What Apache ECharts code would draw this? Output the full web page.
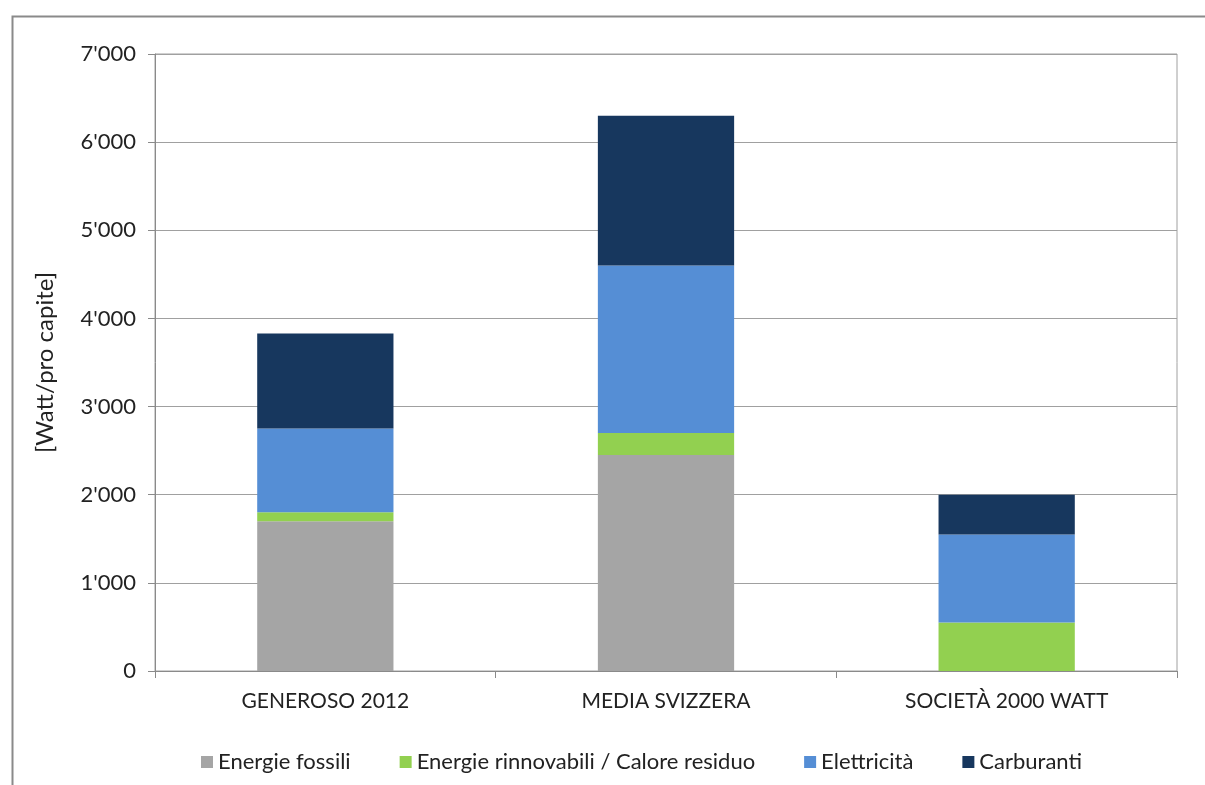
<!DOCTYPE html>
<html><head><meta charset="utf-8">
<script src="https://cdn.jsdelivr.net/npm/echarts@6/dist/echarts.min.js"></script>
<style>html,body{margin:0;padding:0;background:#fff}#c{width:1205px;height:785px}</style>
</head><body><div id="c"></div>
<script>
const categories = ['GENEROSO 2012', 'MEDIA SVIZZERA', 'SOCIETÀ 2000 WATT'];
const seriesNames = ['Energie fossili', 'Energie rinnovabili / Calore residuo', 'Elettricità', 'Carburanti'];
const fossili = [1700, 2450, 0];
const rinnovabili = [100, 250, 550];
const elettricita = [950, 1900, 1000];
const carburanti = [1080, 1700, 450];
const yTicks = [0, 1000, 2000, 3000, 4000, 5000, 6000, 7000];
const colors = ['#A5A5A5', '#92D050', '#558ED5', '#17375E'];

const values = [fossili, rinnovabili, elettricita, carburanti];
const font = 'Lato, "Open Sans", sans-serif';
const chart = echarts.init(document.getElementById('c'));
chart.setOption({
  animation: false,
  color: colors,
  graphic: [{
    type: 'rect', left: 10, top: 14, shape: {width: 1250, height: 820},
    style: {fill: 'none', stroke: '#8a8a8a', lineWidth: 2}, silent: true
  }],
  grid: {left: 155, right: 28, top: 54, bottom: 114, show: true, borderColor: '#a0a0a0', borderWidth: 1},
  legend: {
    bottom: 7, left: 196, itemWidth: 12, itemHeight: 12, itemGap: 49,
    icon: 'rect',
    textStyle: {fontFamily: font, fontSize: 22, color: '#222'},
    data: seriesNames
  },
  xAxis: {
    type: 'category', data: categories,
    axisLine: {lineStyle: {color: '#8a8a8a'}},
    axisTick: {show: true, length: 7, lineStyle: {color: '#8a8a8a'}},
    axisLabel: {fontFamily: font, fontSize: 21, color: '#222', margin: 20}
  },
  yAxis: {
    type: 'value', min: yTicks[0], max: yTicks[yTicks.length - 1], interval: 1000,
    name: '[Watt/pro capite]', nameLocation: 'middle', nameGap: 98, nameRotate: 90,
    nameTextStyle: {fontFamily: font, fontSize: 24, color: '#222'},
    axisLine: {show: true, lineStyle: {color: '#8a8a8a'}},
    axisTick: {show: true, length: 7, lineStyle: {color: '#8a8a8a'}},
    splitLine: {lineStyle: {color: '#a0a0a0'}},
    axisLabel: {fontFamily: font, fontSize: 22, color: '#222', margin: 19,
      formatter: v => String(v).replace(/\B(?=(\d{3})+(?!\d))/g, "'")}
  },
  series: seriesNames.map((n, i) => ({
    name: n, type: 'bar', stack: 'total', barWidth: '40%', data: values[i]
  }))
});
</script></body></html>
